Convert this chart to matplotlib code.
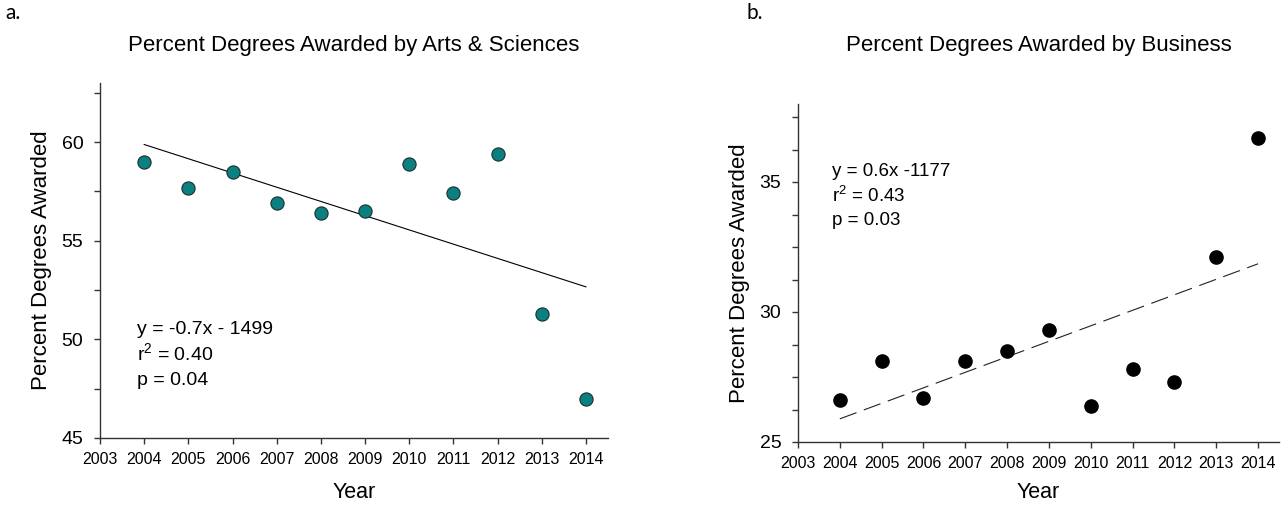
import numpy as np
import matplotlib
matplotlib.use("Agg")
import matplotlib.pyplot as plt
from matplotlib.ticker import MultipleLocator

plt.rcParams['font.family'] = ['Liberation Sans', 'DejaVu Sans']
plt.rcParams['mathtext.fontset'] = 'custom'
plt.rcParams['mathtext.rm'] = 'Liberation Sans'

# data
years = [2004, 2005, 2006, 2007, 2008, 2009, 2010, 2011, 2012, 2013, 2014]
arts_sci = [59.0, 57.7, 58.5, 56.9, 56.4, 56.5, 58.9, 57.4, 59.4, 51.3, 47.0]
business = [26.6, 28.1, 26.7, 28.1, 28.5, 29.3, 26.4, 27.8, 27.3, 32.1, 36.7]
year_ticks = list(range(2003, 2015))

stats_a = ["y = -0.7x - 1499", r"r$\mathregular{^2}$ = 0.40", "p = 0.04"]
stats_b = ["y = 0.6x -1177", r"r$\mathregular{^2}$ = 0.43", "p = 0.03"]

W, H = 1283, 507
fig = plt.figure(figsize=(W / 100, H / 100), dpi=100)
ax1 = fig.add_axes([100 / W, (H - 438) / H, 508 / W, 355 / H])
ax2 = fig.add_axes([798 / W, (H - 442) / H, 481 / W, 338 / H])


def style_axis(ax, ylo, yhi, minor, xpad):
    for s in ['top', 'right']:
        ax.spines[s].set_visible(False)
    for s in ['left', 'bottom']:
        ax.spines[s].set_color('#333333')
        ax.spines[s].set_linewidth(1.0)
    ax.set_xlim(2003, 2014.5)
    ax.set_ylim(ylo, yhi)
    ax.set_xticks(year_ticks)
    ax.yaxis.set_major_locator(MultipleLocator(5))
    ax.yaxis.set_minor_locator(MultipleLocator(minor))
    ax.tick_params(axis='x', direction='out', length=4, width=1, color='#333333',
                   labelsize=11.5, pad=6)
    ax.tick_params(axis='y', which='both', direction='out', length=4, width=1,
                   color='#333333', labelsize=14, pad=8)
    ax.set_xlabel("Year", fontsize=15.5, labelpad=xpad)
    ax.set_ylabel("Percent Degrees Awarded", fontsize=16, labelpad=7)


x = np.array(years)

# a. Arts & Sciences
style_axis(ax1, 45, 63, 2.5, 11)
k1 = np.polyfit(x, arts_sci, 1)
ax1.plot(x[[0, -1]], np.polyval(k1, x[[0, -1]]), color='black', lw=0.8)
ax1.plot(years, arts_sci, 'o', ms=9.5, mfc='#0a8080', mec='#1b2e2e', mew=0.8, zorder=3)
for txt, yy in zip(stats_a, [0.293, 0.220, 0.149]):
    ax1.text(0.073, yy, txt, transform=ax1.transAxes, fontsize=14, va='baseline')

# b. Business
style_axis(ax2, 25, 38, 1.25, 8)
k2 = np.polyfit(x, business, 1)
ax2.plot(x[[0, -1]], np.polyval(k2, x[[0, -1]]), color='#222222', lw=0.8,
         linestyle=(0, (16, 7)))
ax2.plot(years, business, 'o', ms=9.5, mfc='black', mec='black', zorder=3)
for txt, yy in zip(stats_b, [0.787, 0.710, 0.642]):
    ax2.text(0.071, yy, txt, transform=ax2.transAxes, fontsize=13.5, va='baseline')

fig.text(354 / W, 1 - 46 / H, "Percent Degrees Awarded by Arts & Sciences",
         ha='center', va='center', fontsize=16)
fig.text(1038.5 / W, 1 - 46 / H, "Percent Degrees Awarded by Business",
         ha='center', va='center', fontsize=16)
fig.text(5 / W, 1 - 13 / H, "a.", ha='left', va='center', fontsize=15, family='Lato')
fig.text(746 / W, 1 - 13 / H, "b.", ha='left', va='center', fontsize=15, family='Lato')

fig.savefig("out.png", dpi=100)
